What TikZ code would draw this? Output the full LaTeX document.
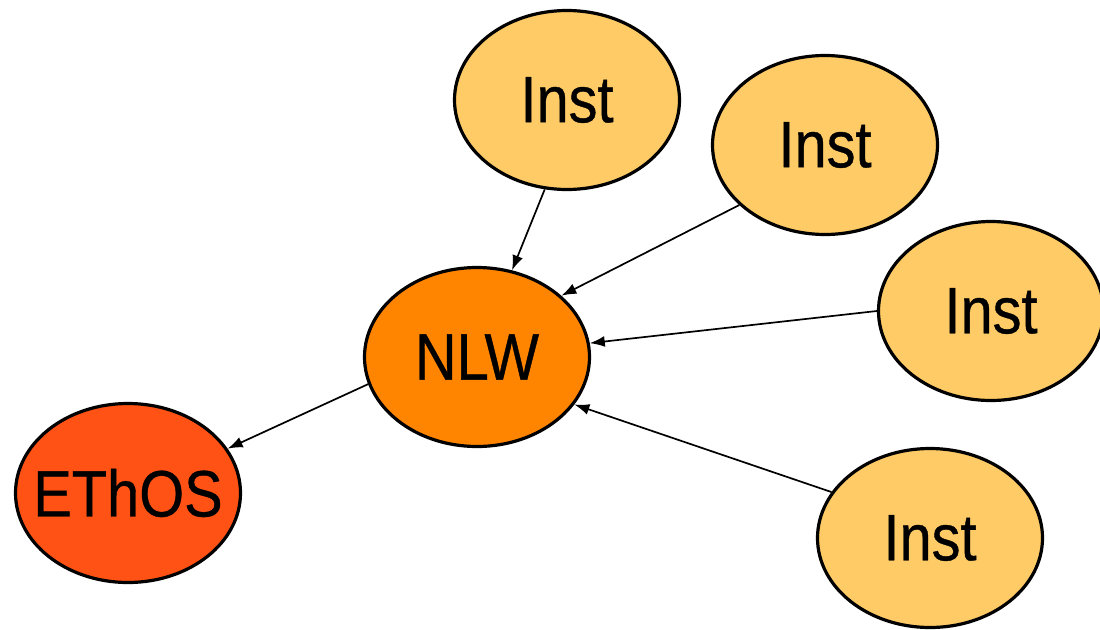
\documentclass[tikz,border=0pt]{standalone}
\usepackage{fontspec}
\newfontfamily\lblfont[FakeStretch=0.88,FakeBold=0.6]{Liberation Sans}
\usetikzlibrary{shapes.geometric,arrows.meta}
\definecolor{instfill}{HTML}{FECB66}
\definecolor{nlwfill}{HTML}{FF8400}
\definecolor{ethosfill}{HTML}{FF5214}
\newcommand{\blbl}[1]{\makebox[0pt]{#1}}
\begin{document}
\begin{tikzpicture}[x=1pt,y=-1pt,
  blob/.style={ellipse,draw=black,line width=3.2pt,inner sep=0pt,
    minimum width=225pt,minimum height=179pt,
    font=\lblfont\fontsize{65.6}{70}\selectfont},
  inst/.style={blob,fill=instfill},
  link/.style={line width=1.7pt,-{Latex[length=15pt,width=11pt]}}]
\useasboundingbox (0,0) rectangle (1100,629);
\node[inst] (i1) at (567,100) {\blbl{Inst}};
\node[inst] (i2) at (825,145) {\blbl{Inst}};
\node[inst] (i3) at (991,311) {\blbl{Inst}};
\node[inst] (i4) at (930,538) {\blbl{Inst}};
\node[blob,fill=nlwfill] (nlw) at (477,357) {\blbl{NLW}};
\node[blob,fill=ethosfill] (ethos) at (128,493) {\blbl{EThOS}};
\draw[link] (i1.256.4) -- (nlw.68.6);
\draw[link] (i2.215.5) -- (nlw.36.1);
\draw[link] (i3.180) -- (nlw.7.5);
\draw[link] (i4.155.8) -- (nlw.334.6);
\draw[link] (nlw.194.7) -- (ethos.24.7);
\end{tikzpicture}
\end{document}
